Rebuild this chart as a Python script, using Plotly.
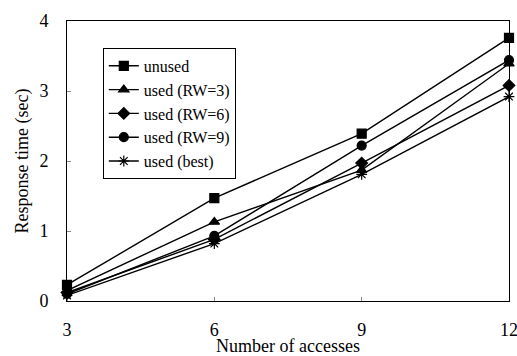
import plotly.graph_objects as go

x_vals = [3, 6, 9, 12]
unused = [0.23, 1.47, 2.39, 3.76]
rw3 = [0.15, 1.13, 1.87, 3.39]
rw6 = [0.12, 0.88, 1.97, 3.08]
rw9 = [0.10, 0.93, 2.22, 3.44]
best = [0.08, 0.82, 1.81, 2.92]

series = [
    ("unused", unused, "square", 9),
    ("used (RW=3)", rw3, "triangle-up", 9),
    ("used (RW=6)", rw6, "diamond", 9),
    ("used (RW=9)", rw9, "circle", 9),
    ("used (best)", best, "asterisk-open", 9),
]

FAM = "Liberation Serif"

fig = go.Figure()
for name, ys, sym, sz in series:
    fig.add_trace(go.Scatter(
        x=x_vals, y=ys, name=name, mode="lines+markers",
        line=dict(color="black", width=1.4),
        marker=dict(symbol=sym, size=sz, color="black",
                    line=dict(color="black", width=1.2)),
        cliponaxis=False,
    ))

fig.update_layout(
    width=517, height=356,
    margin=dict(l=67, r=8, t=21, b=55),
    paper_bgcolor="white", plot_bgcolor="white",
    font=dict(family=FAM, size=18, color="black"),
    showlegend=True,
    legend=dict(x=0.081, y=0.904, xanchor="left", yanchor="top",
                bordercolor="black", borderwidth=1, bgcolor="white",
                font=dict(family=FAM, size=16, color="black"),
                tracegroupgap=0, itemwidth=30),
    xaxis=dict(range=[3, 12], tickvals=[3, 6, 9, 12], showgrid=False,
               zeroline=False, showline=True, linecolor="black", linewidth=1,
               mirror=True, ticks="inside", ticklen=4, tickcolor="#888",
               ticklabelstandoff=12, automargin=False,
               ticklabeloverflow="allow",
               tickfont=dict(family=FAM, size=18),
               title=dict(text="Number of accesses", standoff=2,
                          font=dict(family=FAM, size=18))),
    yaxis=dict(range=[0, 4], tickvals=[0, 1, 2, 3, 4], showgrid=False,
               zeroline=False, showline=True, linecolor="black", linewidth=1,
               mirror=True, ticks="inside", ticklen=4, tickcolor="#888",
               ticklabelstandoff=14, automargin=False,
               ticklabeloverflow="allow",
               tickfont=dict(family=FAM, size=18),
               title=dict(text="Response time (sec)", standoff=6,
                          font=dict(family=FAM, size=18))),
)

fig.write_html("out.html", config={"displayModeBar": False},
               post_script="document.body.style.margin='0';")
